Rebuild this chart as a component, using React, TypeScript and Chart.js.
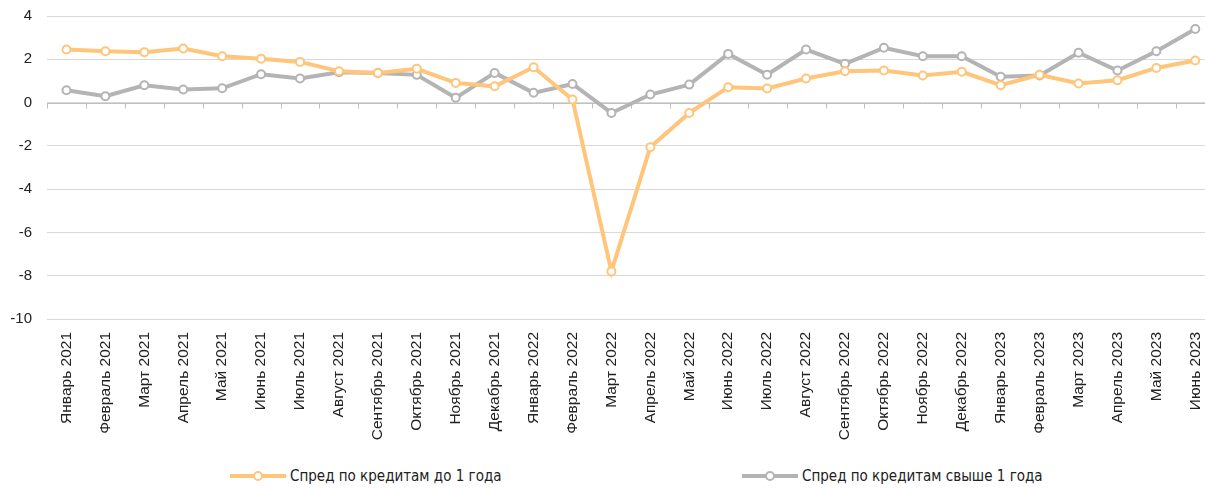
import React, { useEffect, useRef } from "react";
import { Chart, registerables } from "chart.js";

Chart.register(...registerables);

const categories = [
  "Январь 2021", "Февраль 2021", "Март 2021", "Апрель 2021", "Май 2021", "Июнь 2021",
  "Июль 2021", "Август 2021", "Сентябрь 2021", "Октябрь 2021", "Ноябрь 2021", "Декабрь 2021",
  "Январь 2022", "Февраль 2022", "Март 2022", "Апрель 2022", "Май 2022", "Июнь 2022",
  "Июль 2022", "Август 2022", "Сентябрь 2022", "Октябрь 2022", "Ноябрь 2022", "Декабрь 2022",
  "Январь 2023", "Февраль 2023", "Март 2023", "Апрель 2023", "Май 2023", "Июнь 2023",
];

const shortSpread = [
  2.45, 2.37, 2.33, 2.5, 2.14, 2.03, 1.88, 1.45, 1.37, 1.56, 0.91, 0.75,
  1.63, 0.14, -7.8, -2.06, -0.48, 0.71, 0.65, 1.11, 1.45, 1.48, 1.25, 1.42,
  0.8, 1.28, 0.88, 1.03, 1.6, 1.94,
];

const longSpread = [
  0.57, 0.29, 0.8, 0.6, 0.66, 1.31, 1.11, 1.4, 1.37, 1.28, 0.22, 1.37,
  0.45, 0.86, -0.48, 0.37, 0.83, 2.25, 1.29, 2.45, 1.79, 2.53, 2.14, 2.14,
  1.19, 1.25, 2.3, 1.48, 2.37, 3.4,
];

const seriesLabels = ["Спред по кредитам до 1 года", "Спред по кредитам свыше 1 года"];
const seriesColors = ["#FFC57A", "#B4B4B4"];

const yMin = -10;
const yMax = 4;
const yStep = 2;

const CANVAS_W = 1227;
const CANVAS_H = 450;

const zeroAxisPlugin = {
  id: "zeroAxis",
  beforeDatasetsDraw(chart: any) {
    const { ctx, chartArea, scales } = chart;
    const x = scales.x;
    const y = scales.y;
    const y0 = Math.round(y.getPixelForValue(0)) + 0.5;
    ctx.save();
    ctx.strokeStyle = "#BFBFBF";
    ctx.lineWidth = 1;
    ctx.beginPath();
    ctx.moveTo(chartArea.left, y0);
    ctx.lineTo(chartArea.right, y0);
    const n = categories.length;
    const w = (chartArea.right - chartArea.left) / n;
    for (let i = 0; i <= n; i++) {
      const px = Math.round(x.getPixelForValue(i) - w / 2) + 0.5;
      ctx.moveTo(px, y0);
      ctx.lineTo(px, y0 + 5);
    }
    ctx.stroke();
    ctx.restore();
  },
};

function LegendItem({ color, label, left }: { color: string; label: string; left: number }) {
  return (
    <div
      style={{
        position: "absolute",
        left,
        top: 466,
        display: "flex",
        alignItems: "center",
        height: 20,
        whiteSpace: "nowrap",
      }}
    >
      <svg width={56} height={14} style={{ marginRight: 4 }}>
        <line x1={0} y1={7} x2={56} y2={7} stroke={color} strokeWidth={4} />
        <circle cx={28} cy={7} r={4} fill="#fff" stroke={color} strokeWidth={2} />
      </svg>
      <span
        style={{
          fontFamily: '"Liberation Sans Narrow", "DejaVu Sans Condensed", sans-serif',
          fontSize: 15,
          color: "#222",
        }}
      >
        {label}
      </span>
    </div>
  );
}

export default function App() {
  const canvasRef = useRef<HTMLCanvasElement | null>(null);

  useEffect(() => {
    if (!canvasRef.current) return;
    const chart = new Chart(canvasRef.current, {
      type: "line",
      data: {
        labels: categories,
        datasets: [
          {
            label: seriesLabels[0],
            data: shortSpread,
            borderColor: seriesColors[0],
            backgroundColor: "#FFFFFF",
            borderWidth: 4,
            pointRadius: 4,
            pointBorderWidth: 2,
            pointBackgroundColor: "#FFFFFF",
            pointBorderColor: seriesColors[0],
            tension: 0,
          },
          {
            label: seriesLabels[1],
            data: longSpread,
            borderColor: seriesColors[1],
            backgroundColor: "#FFFFFF",
            borderWidth: 4,
            pointRadius: 4,
            pointBorderWidth: 2,
            pointBackgroundColor: "#FFFFFF",
            pointBorderColor: seriesColors[1],
            tension: 0,
          },
        ],
      },
      options: {
        animation: false,
        responsive: false,
        devicePixelRatio: 1,
        layout: { padding: { top: 16, right: 0, left: 0, bottom: 0 } },
        plugins: {
          legend: { display: false },
          tooltip: { enabled: false },
        },
        scales: {
          x: {
            offset: true,
            grid: { display: false, drawTicks: false },
            border: { display: false },
            ticks: {
              autoSkip: false,
              minRotation: 90,
              maxRotation: 90,
              padding: 13,
              color: "#222",
              font: { family: '"Liberation Sans", Arial, sans-serif', size: 15.5 },
            },
            afterFit(scale: any) {
              scale.height = CANVAS_H - 319;
            },
          },
          y: {
            min: yMin,
            max: yMax,
            ticks: {
              stepSize: yStep,
              padding: 0,
              color: "#222",
              font: { family: '"Liberation Sans", Arial, sans-serif', size: 15 },
            },
            grid: {
              color: "#D9D9D9",
              drawTicks: true,
              tickLength: 15,
              tickColor: "rgba(0,0,0,0)",
              lineWidth: 1,
            },
            border: { display: false },
            afterFit(scale: any) {
              scale.width = 47;
            },
          },
        },
      },
      plugins: [zeroAxisPlugin],
    });
    return () => chart.destroy();
  }, []);

  return (
    <div
      style={{
        position: "fixed",
        left: 0,
        top: 0,
        width: 1205,
        height: 488,
        overflow: "hidden",
        background: "#fff",
      }}
    >
      <canvas
        ref={canvasRef}
        width={CANVAS_W}
        height={CANVAS_H}
        style={{ width: CANVAS_W, height: CANVAS_H, display: "block" }}
      />
      <LegendItem color={seriesColors[0]} label={seriesLabels[0]} left={230} />
      <LegendItem color={seriesColors[1]} label={seriesLabels[1]} left={742} />
    </div>
  );
}
